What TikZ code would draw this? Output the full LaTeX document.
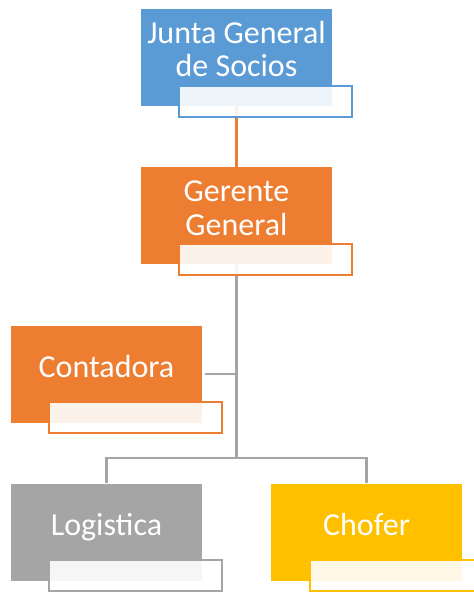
\documentclass[tikz,border=0pt]{standalone}
\usepackage{fontspec}
\setmainfont{Carlito}
\definecolor{boxblue}{HTML}{5B9BD5}
\definecolor{boxorange}{HTML}{ED7D31}
\definecolor{boxgrey}{HTML}{A5A5A5}
\definecolor{boxgold}{HTML}{FFC000}
\begin{document}
\begin{tikzpicture}[x=0.75pt,y=-0.75pt,
    post/.style={rectangle,fill=#1,minimum width=143.25pt,minimum height=72.75pt,inner sep=0,text=white,font=\fontsize{24}{25}\selectfont,align=center,text height=15pt,text depth=10.5pt},
    two lines/.style={text height=40pt,text depth=10.75pt},
    tag/.style={rectangle,draw=#1,line width=1.5pt,fill=white,fill opacity=0.9,minimum width=129.75pt,minimum height=23.25pt,inner sep=0,anchor=north west},
    link/.style={draw=#1,line width=1.75pt}]

    \useasboundingbox (0,0) rectangle (474,592);
    \clip (0,0) rectangle (474,592);

    \node[post=boxblue,two lines] (junta) at (236.5,57.5) {Junta General\\de Socios};
    \node[post=boxorange,two lines] (gerente) at (236.5,215.5) {Gerente\\General};
    \node[post=boxorange] (contadora) at (106.5,374) {Contadora};
    \node[post=boxgrey] (logistica) at (106.5,532) {Logistica};
    \node[post=boxgold] (chofer) at (366.5,532) {Chofer};
    \coordinate (bar) at (236.5,458);

    \draw[link=boxorange] (junta) -- (gerente);
    \draw[link=boxgrey] (gerente) -- (bar);
    \draw[link=boxgrey,shorten <=2.25pt] (contadora.east) -- (contadora.east -| bar);
    \draw[link=boxgrey] (logistica) |- (bar) -| (chofer);

    \node[tag=boxblue] (junta-t) at ([shift={(37,76)}]junta.north west) {};
    \node[tag=boxorange] (gerente-t) at ([shift={(37,76)}]gerente.north west) {};
    \node[tag=boxorange] (contadora-t) at ([shift={(37,76)}]contadora.north west) {};
    \node[tag=boxgrey] (logistica-t) at ([shift={(37,76)}]logistica.north west) {};
    \node[tag=boxgold] (chofer-t) at ([shift={(38,76)}]chofer.north west) {};
\end{tikzpicture}
\end{document}
